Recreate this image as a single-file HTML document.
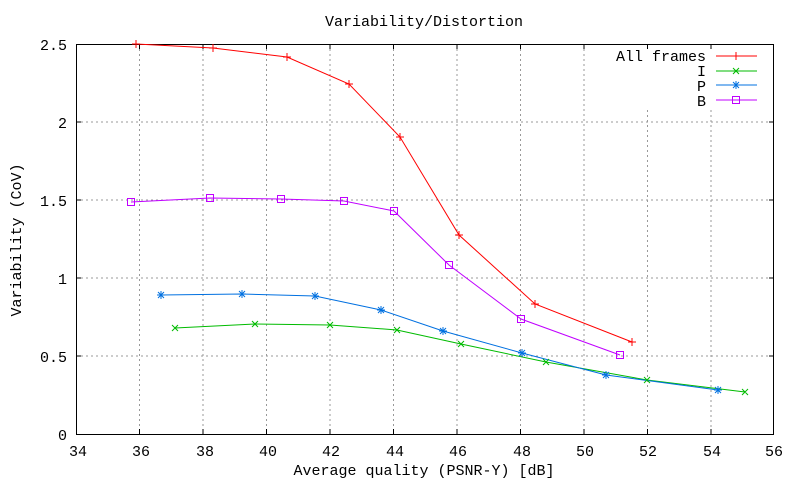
<!DOCTYPE html>
<html><head><meta charset="utf-8"><style>body{margin:0;background:#fff}svg{display:block}text{font-family:"Liberation Mono",monospace;font-size:15px;fill:#000}</style></head><body>
<svg width="800" height="480" xmlns="http://www.w3.org/2000/svg">
<g stroke="#999" stroke-dasharray="2,3" stroke-width="1">
<line x1="139.5" y1="44" x2="139.5" y2="434"/><line x1="203" y1="44" x2="203" y2="434"/><line x1="266.5" y1="44" x2="266.5" y2="434"/><line x1="330" y1="44" x2="330" y2="434"/><line x1="393.5" y1="44" x2="393.5" y2="434"/><line x1="457" y1="44" x2="457" y2="434"/><line x1="520.5" y1="44" x2="520.5" y2="434"/><line x1="584" y1="44" x2="584" y2="434"/><line x1="647.5" y1="110" x2="647.5" y2="434"/><line x1="711" y1="110" x2="711" y2="434"/>
<line x1="76" y1="122" x2="774" y2="122"/><line x1="76" y1="200" x2="774" y2="200"/><line x1="76" y1="278" x2="774" y2="278"/><line x1="76" y1="356" x2="774" y2="356"/>
</g>
<rect x="76.5" y="44.5" width="697" height="390" fill="none" stroke="#000"/>
<g fill="none" stroke="#000"><path d="M139.5 434v-5M203 434v-5M266.5 434v-5M330 434v-5M393.5 434v-5M457 434v-5M520.5 434v-5M584 434v-5M647.5 434v-5M711 434v-5M139.5 44v5M203 44v5M266.5 44v5M330 44v5M393.5 44v5M457 44v5M520.5 44v5M584 44v5M647.5 44v5M711 44v5M76 122h5M76 200h5M76 278h5M76 356h5M774 122h-5M774 200h-5M774 278h-5M774 356h-5"/></g>
<g text-anchor="middle">
<text x="78" y="456">34</text><text x="141" y="456">36</text><text x="205" y="456">38</text><text x="268" y="456">40</text><text x="331" y="456">42</text><text x="395" y="456">44</text><text x="458" y="456">46</text><text x="522" y="456">48</text><text x="585" y="456">50</text><text x="648" y="456">52</text><text x="712" y="456">54</text><text x="774" y="456">56</text>
<text x="424" y="26">Variability/Distortion</text>
<text x="424" y="475">Average quality (PSNR-Y) [dB]</text>
<text transform="translate(21,240) rotate(-90)">Variability (CoV)</text>
</g>
<g text-anchor="end"><text x="67" y="50">2.5</text><text x="67" y="128">2</text><text x="67" y="206">1.5</text><text x="67" y="284">1</text><text x="67" y="362">0.5</text><text x="67" y="440">0</text>
<text x="706" y="61">All frames</text><text x="706" y="76">I</text><text x="706" y="91">P</text><text x="706" y="106">B</text></g>
<g fill="none" stroke-width="1">
<polyline stroke="#f00" points="136,44 213,48 287,57 349,84 400,137 459,235 535,304 632,342"/>
<polyline stroke="#0b0" points="175,328 255,324 330,325 397,330 461,344 546,362 647,380 745,392"/>
<polyline stroke="#0070e0" points="161,295 242,294 315,296 381,310 443,331 522,353 606,375 718,390"/>
<polyline stroke="#c000ff" points="131,202 210,198 281,199 344,201 394,211 449,265 521,319 620,355"/>
<line x1="716" y1="56" x2="757" y2="56" stroke="#f00"/><line x1="716" y1="71" x2="757" y2="71" stroke="#0b0"/><line x1="716" y1="85" x2="757" y2="85" stroke="#0070e0"/><line x1="716" y1="100" x2="757" y2="100" stroke="#c000ff"/>
<path stroke="#f00" d="M132 44h8M136 40v8M209 48h8M213 44v8M283 57h8M287 53v8M345 84h8M349 80v8M396 137h8M400 133v8M455 235h8M459 231v8M531 304h8M535 300v8M628 342h8M632 338v8M732 56h8M736 52v8"/>
<path stroke="#0b0" d="M172 325l6 6M172 331l6-6M252 321l6 6M252 327l6-6M327 322l6 6M327 328l6-6M394 327l6 6M394 333l6-6M458 341l6 6M458 347l6-6M543 359l6 6M543 365l6-6M644 377l6 6M644 383l6-6M742 389l6 6M742 395l6-6M733 68l6 6M733 74l6-6"/>
<path stroke="#0070e0" d="M157 295h8M161 291v8M158 292l6 6M158 298l6-6M238 294h8M242 290v8M239 291l6 6M239 297l6-6M311 296h8M315 292v8M312 293l6 6M312 299l6-6M377 310h8M381 306v8M378 307l6 6M378 313l6-6M439 331h8M443 327v8M440 328l6 6M440 334l6-6M518 353h8M522 349v8M519 350l6 6M519 356l6-6M602 375h8M606 371v8M603 372l6 6M603 378l6-6M714 390h8M718 386v8M715 387l6 6M715 393l6-6M732 85h8M736 81v8M733 82l6 6M733 88l6-6"/>
<g stroke="#c000ff"><rect x="127.5" y="198.5" width="7" height="7"/><rect x="206.5" y="194.5" width="7" height="7"/><rect x="277.5" y="195.5" width="7" height="7"/><rect x="340.5" y="197.5" width="7" height="7"/><rect x="390.5" y="207.5" width="7" height="7"/><rect x="445.5" y="261.5" width="7" height="7"/><rect x="517.5" y="315.5" width="7" height="7"/><rect x="616.5" y="351.5" width="7" height="7"/><rect x="732.5" y="96.5" width="7" height="7"/></g>
</g>
</svg>
</body></html>
